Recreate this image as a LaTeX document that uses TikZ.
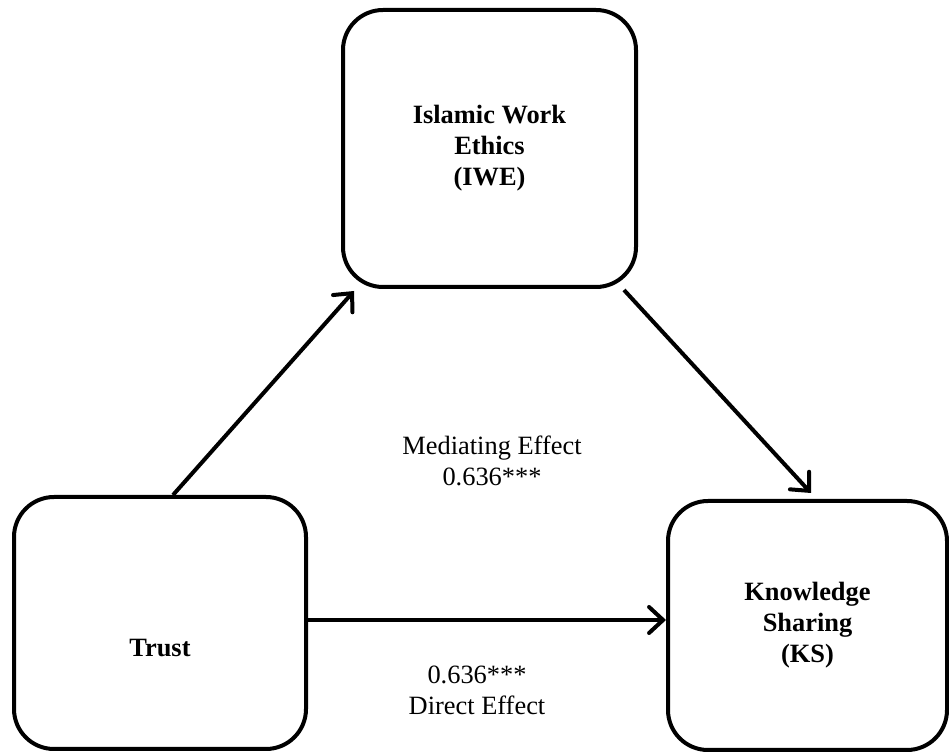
\documentclass[tikz,border=0pt]{standalone}
\usepackage{fontspec}
\setmainfont{Liberation Serif}
\usepackage{tikz}
\usetikzlibrary{arrows.meta, positioning, calc}

\begin{document}
\begin{tikzpicture}[
    x=0.5pt, y=-0.5pt,
    every node/.style={font=\fontsize{13.2}{15.5}\selectfont},
    construct/.style={rectangle, draw, line width=2pt, rounded corners=20pt, align=center, font=\fontsize{13.2}{15.5}\selectfont\bfseries},
    effect/.style={align=center},
    arrow/.style={-{Straight Barb[length=7pt, width=13pt, line cap=round]}, line width=2pt},
]
\useasboundingbox (0,0) rectangle (949,753);

% Constructs
\node[construct, minimum width=146.5pt, minimum height=138.5pt] (iwe) at (489.5,148.5) {Islamic Work\\Ethics\\(IWE)};
\node[construct, minimum width=146pt, minimum height=126pt,
      label={[yshift=-12.5pt, font=\fontsize{13.2}{15.5}\selectfont\bfseries]center:Trust}] (trust) at (160,623) {};
\node[construct, minimum width=139.5pt, minimum height=124.5pt] (ks) at (807.5,625.5) {Knowledge\\Sharing\\(KS)};

% Paths
\draw[arrow] ([xshift=6.5pt]trust.north) -- ([xshift=6.5pt, yshift=-1pt]iwe.south west);
\draw[arrow] ([xshift=-7pt, yshift=-0.5pt]iwe.south east) -- ([xshift=1.75pt, yshift=3pt]ks.north);
\draw[arrow] ([yshift=1.5pt]trust.east) -- ([yshift=1.5pt]trust.east -| ks.west);

% Effect labels
\node[effect] (mediating) at (492,461) {Mediating Effect\\0.636***};
\node[effect] (direct) at (477,690) {0.636***\\Direct Effect};

\end{tikzpicture}
\end{document}
